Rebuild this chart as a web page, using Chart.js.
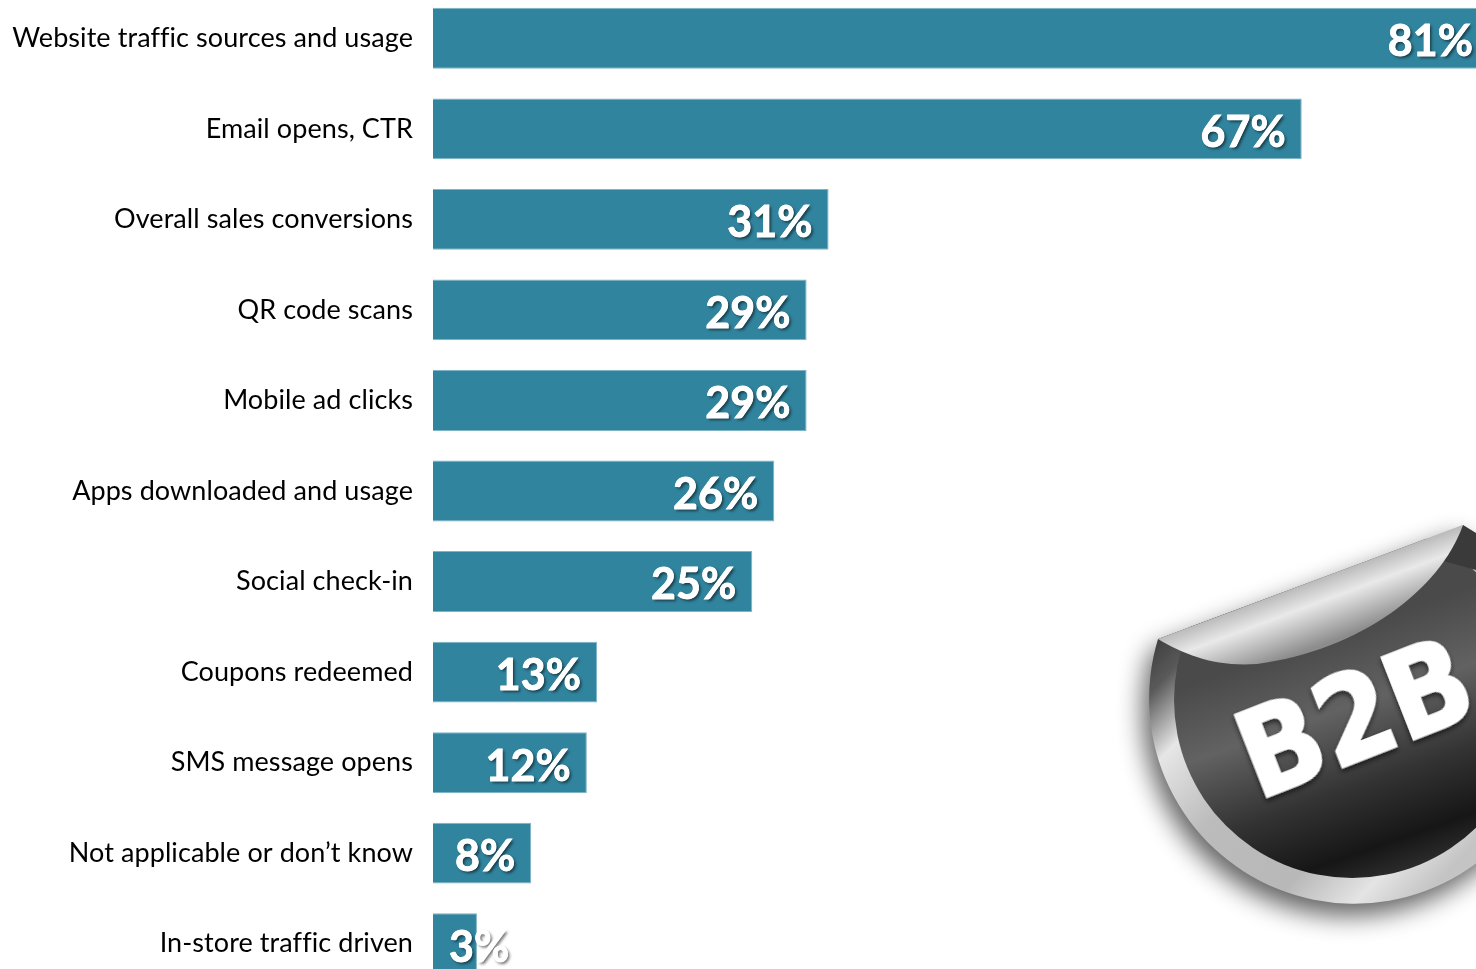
<!DOCTYPE html>
<html>
<head>
<meta charset="utf-8">
<title>B2B mobile marketing metrics</title>
<script src="https://cdn.jsdelivr.net/npm/chart.js@4"></script>
<style>
    html, body { margin: 0; padding: 0; background: #fff; overflow: hidden; width: 1476px; height: 969px; }
    #chartWrap { position: absolute; left: 0; top: -7px; width: 1476px; height: 996px; }
    #sticker { position: absolute; left: 1100px; top: 500px; }
</style>
</head>
<body>
<div id="chartWrap"><canvas id="metricsChart" width="1476" height="996"></canvas></div>

<!-- the B2B sticker is a decoration on top of the chart, not data -->
<svg id="sticker" width="376" height="469" viewBox="1100 500 376 469" xmlns="http://www.w3.org/2000/svg">
    <defs>
        <filter id="soft" x="-30%" y="-30%" width="160%" height="160%"><feGaussianBlur stdDeviation="13"/></filter>
        <filter id="textShadow" x="-20%" y="-20%" width="140%" height="140%">
            <feDropShadow dx="-1" dy="3" stdDeviation="2.5" flood-color="#000" flood-opacity="0.6"/>
        </filter>
        <linearGradient id="ring" gradientUnits="userSpaceOnUse" x1="1150" y1="640" x2="1420" y2="900">
            <stop offset="0" stop-color="#3c3c3c"/>
            <stop offset="0.1" stop-color="#5a5a5a"/>
            <stop offset="0.24" stop-color="#e6e6e6"/>
            <stop offset="0.45" stop-color="#bcbcbc"/>
            <stop offset="0.72" stop-color="#b8b8b8"/>
            <stop offset="0.88" stop-color="#e4e4e4"/>
            <stop offset="1" stop-color="#c4c4c4"/>
        </linearGradient>
        <linearGradient id="face" gradientUnits="userSpaceOnUse" x1="1290" y1="650" x2="1370" y2="880">
            <stop offset="0" stop-color="#4a4a4a"/>
            <stop offset="0.3" stop-color="#626262"/>
            <stop offset="0.62" stop-color="#333"/>
            <stop offset="0.88" stop-color="#161616"/>
            <stop offset="1" stop-color="#2a2a2a"/>
        </linearGradient>
        <linearGradient id="flap" gradientUnits="userSpaceOnUse" x1="1296" y1="575" x2="1322" y2="645">
            <stop offset="0" stop-color="#a2a2a2"/>
            <stop offset="0.45" stop-color="#e9e9e9"/>
            <stop offset="1" stop-color="#8c8c8c"/>
        </linearGradient>
        <clipPath id="belowFlap">
            <path d="M1158 639 L1463 525 L1476 533 L1476 969 L1100 969 L1100 639 Z"/>
        </clipPath>
    </defs>
    <path d="M1158 639 A205 205 0 1 0 1463 525 Z" transform="translate(-6 12)" fill="#000" opacity="0.62" filter="url(#soft)"/>
    <path d="M1158 639 A205 205 0 1 0 1463 525 Z" fill="url(#ring)"/>
    <circle cx="1352" cy="700" r="178" fill="url(#face)" clip-path="url(#belowFlap)"/>
    <path d="M1463 525 L1476 533 L1476 570 L1440 560 Z" fill="#3a3a3a"/>
    <path d="M1158 639 L1463 525 C1440 590 1360 650 1257 664 C1215 667 1185 655 1158 639 Z" fill="url(#flap)"/>
    <text transform="translate(1258 800) rotate(-21.4)" font-family="DejaVu Sans" font-weight="700" font-size="120"
          textLength="240" lengthAdjust="spacingAndGlyphs" fill="#fff" stroke="#fff" stroke-width="3" filter="url(#textShadow)">B2B</text>
</svg>

<script>
// Data
const categories = [
    'Website traffic sources and usage',
    'Email opens, CTR',
    'Overall sales conversions',
    'QR code scans',
    'Mobile ad clicks',
    'Apps downloaded and usage',
    'Social check-in',
    'Coupons redeemed',
    'SMS message opens',
    'Not applicable or don\u2019t know',
    'In-store traffic driven'
];
// bar lengths as drawn, they differ a little from the printed percentages
const barValues = [81.7, 67.2, 30.6, 28.9, 28.9, 26.4, 24.7, 12.7, 11.9, 7.6, 3.4];
const valueLabels = ['81%', '67%', '31%', '29%', '29%', '26%', '25%', '13%', '12%', '8%', '3%'];

const axisMax = 80.68;
const barColor = '#31849e';

// Slight tracking brings Lato to the width of the original text and drops the ffi ligature
const trackingPlugin = {
    id: 'tracking',
    beforeDraw(chart) {
        chart.ctx.letterSpacing = '0.08px';
    }
};

// White bold labels inside the end of each bar
const valueLabelPlugin = {
    id: 'valueLabels',
    afterDatasetsDraw(chart) {
        const ctx = chart.ctx;
        const bars = chart.getDatasetMeta(0).data;
        ctx.save();
        ctx.font = '700 43px Lato';
        ctx.fillStyle = '#fff';
        ctx.strokeStyle = '#fff';
        ctx.lineWidth = 0.8;
        ctx.textAlign = 'right';
        ctx.textBaseline = 'middle';
        bars.forEach((bar, i) => {
            const textWidth = ctx.measureText(valueLabels[i]).width;
            // short bars push the label past their end, it never starts before the base
            const x = Math.max(bar.x - 16, bar.base + 16 + textWidth);
            const y = bar.y + 4;
            ctx.shadowColor = 'rgba(0, 0, 0, 0.55)';
            ctx.shadowOffsetX = 2;
            ctx.shadowOffsetY = 2;
            ctx.shadowBlur = 3;
            ctx.fillText(valueLabels[i], x, y);
            // second pass thickens the glyphs, without the shadow so they stay clean white
            ctx.shadowColor = 'transparent';
            ctx.fillText(valueLabels[i], x, y);
            ctx.strokeText(valueLabels[i], x, y);
        });
        ctx.restore();
    }
};

new Chart(document.getElementById('metricsChart').getContext('2d'), {
    type: 'bar',
    data: {
        labels: categories,
        datasets: [{
            data: barValues,
            backgroundColor: barColor,
            borderColor: '#7db4c6',
            borderWidth: 1,
            barPercentage: 1,
            categoryPercentage: 0.672
        }]
    },
    options: {
        indexAxis: 'y',
        responsive: false,
        animation: false,
        layout: { padding: 0 },
        plugins: {
            legend: { display: false },
            tooltip: { enabled: false }
        },
        scales: {
            x: {
                display: false,
                min: 0,
                max: axisMax
            },
            y: {
                afterFit(scale) {
                    // fixed gutter for the labels, bands run the full canvas height
                    scale.width = 433;
                    scale.paddingTop = 0;
                    scale.paddingBottom = 0;
                },
                border: { display: false },
                grid: { display: false, drawTicks: false },
                ticks: {
                    color: '#000',
                    padding: 20,
                    font: { family: 'Lato', size: 27 }
                }
            }
        }
    },
    plugins: [trackingPlugin, valueLabelPlugin]
});
</script>
</body>
</html>
